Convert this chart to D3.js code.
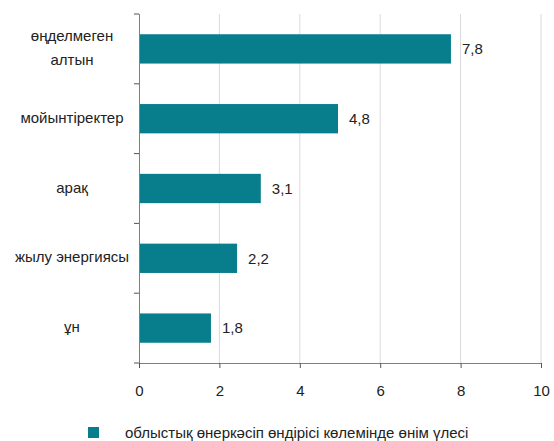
<!DOCTYPE html>
<html>
<head>
<meta charset="utf-8">
<script src="https://cdn.jsdelivr.net/npm/d3@7"></script>
<style>
  body { margin: 0; background: #fff; }
  text { font-family: "Liberation Sans", Arial, sans-serif; fill: #222; }
</style>
</head>
<body>
<svg id="chart" width="554" height="441"></svg>
<script>
// Санаттар (жоғарыдан төменге)
const categories = [["өңделмеген", "алтын"], ["мойынтіректер"], ["арақ"], ["жылу энергиясы"], ["ұн"]];
// Бағаналардың ұзындығы (суреттен оқылған)
const values = [7.76, 4.95, 3.03, 2.44, 1.79];
// Бағаналардағы жазулар
const valueLabels = ["7,8", "4,8", "3,1", "2,2", "1,8"];
const xTicks = [0, 2, 4, 6, 8, 10];
const legendLabel = "облыстық өнеркәсіп өндірісі көлемінде өнім үлесі";

const barColor = "#087e8c";
const width = 554, height = 441;
const margin = { top: 14, right: 13, bottom: 78, left: 139 };
const plotW = width - margin.left - margin.right;
const plotH = height - margin.top - margin.bottom;
const fontSize = "15px";

const svg = d3.select("#chart");
const g = svg.append("g").attr("transform", `translate(${margin.left},${margin.top})`);

const keys = categories.map((c, i) => i);

const x = d3.scaleLinear().domain([0, 10]).range([0, plotW]);
const y = d3.scaleBand().domain(keys).range([0, plotH]).paddingInner(0.58).paddingOuter(0.29);
// шкала бөлгіштері үшін
const yTicks = d3.scaleBand().domain(keys).range([0, plotH]).padding(0);

// Тік тор сызықтары
g.append("g")
  .selectAll("line")
  .data(xTicks.filter(d => d > 0))
  .join("line")
  .attr("x1", d => x(d)).attr("x2", d => x(d))
  .attr("y1", 0).attr("y2", plotH)
  .attr("stroke", "#d9d9d9")
  .attr("stroke-width", 1);

// Бағаналар
g.append("g")
  .selectAll("rect")
  .data(values)
  .join("rect")
  .attr("x", x(0))
  .attr("y", (d, i) => y(i))
  .attr("width", d => x(d) - x(0))
  .attr("height", y.bandwidth())
  .attr("fill", barColor);

// Мән жазулары
g.append("g")
  .selectAll("text")
  .data(values)
  .join("text")
  .attr("x", d => x(d) + 11)
  .attr("y", (d, i) => y(i) + y.bandwidth() / 2)
  .attr("dy", "0.35em")
  .style("font-size", fontSize)
  .text((d, i) => valueLabels[i]);

// Төменгі ось
const xAxis = g.append("g")
  .attr("transform", `translate(0,${plotH})`)
  .call(d3.axisBottom(x).tickValues(xTicks).tickSize(5).tickPadding(17).tickFormat(d3.format("d")));
xAxis.select(".domain").attr("stroke", "#7f7f7f").attr("d", `M0,0.5H${plotW}`);
xAxis.selectAll(".tick line").attr("stroke", "#555");
xAxis.selectAll(".tick text").style("font-size", fontSize).attr("fill", "#222").style("font-family", "Liberation Sans, Arial, sans-serif");

// Сол жақ ось
g.append("line")
  .attr("x1", 0.5).attr("x2", 0.5).attr("y1", 0).attr("y2", plotH)
  .attr("stroke", "#7f7f7f");
g.append("g")
  .selectAll("line")
  .data(keys.map(k => yTicks(k)).concat([plotH]))
  .join("line")
  .attr("x1", -5).attr("x2", 0)
  .attr("y1", d => d).attr("y2", d => d)
  .attr("stroke", "#555");

// Санат жазулары
const catText = svg.append("g")
  .selectAll("text")
  .data(categories)
  .join("text")
  .attr("text-anchor", "middle")
  .style("font-size", fontSize)
  .attr("y", (d, i) => margin.top + y(i) + y.bandwidth() / 2);

catText.each(function(lines) {
  const t = d3.select(this);
  const lh = 24;
  lines.forEach((line, j) => {
    t.append("tspan")
      .attr("x", 72)
      .attr("dy", j === 0 ? ((-(lines.length - 1) * lh / 2) + 4) + "px" : lh + "px")
      .text(line);
  });
});

// Аңыз
const legend = svg.append("g").attr("transform", "translate(88,427)");
legend.append("rect").attr("width", 11).attr("height", 11).attr("fill", barColor);
legend.append("text")
  .attr("x", 37).attr("y", 6).attr("dy", "0.35em")
  .style("font-size", fontSize)
  .text(legendLabel);
</script>
</body>
</html>
